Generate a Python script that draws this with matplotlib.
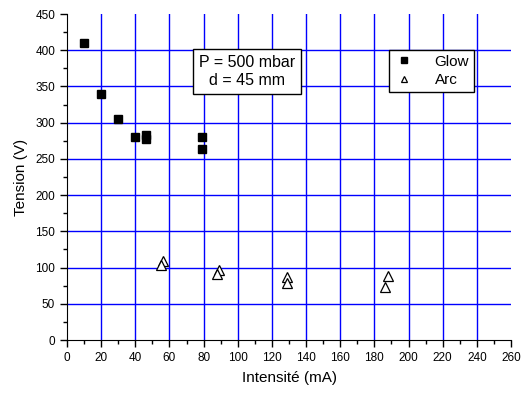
import matplotlib
matplotlib.use("Agg")
import matplotlib.pyplot as plt
import numpy as np

plt.rcParams['font.family'] = ['Liberation Sans', 'DejaVu Sans']

# Glow (carrés pleins)
glow_i = [10, 20, 30, 40, 46, 46, 79, 79]
glow_v = [410, 340, 305, 280, 283, 278, 280, 264]

# Arc (triangles vides)
arc_i = [56, 55, 89, 88, 129, 129, 188, 186]
arc_v = [109, 104, 96, 91, 87, 79, 88, 73]

xticks = np.arange(0, 261, 20)
yticks = np.arange(0, 451, 50)

fig = plt.figure(figsize=(5.22, 3.96), dpi=100)
ax = fig.add_axes([0.1284, 0.1414, 0.979 - 0.1284, 0.9646 - 0.1414])

# grille bleue (sans les bords)
for x in xticks[1:-1]:
    ax.axvline(x, color='#0000ff', lw=1.0, zorder=0)
for y in yticks[1:-1]:
    ax.axhline(y, color='#0000ff', lw=1.0, zorder=0)

ax.plot(glow_i, glow_v, 's', color='black', ms=6, label='Glow', zorder=3)
ax.plot(arc_i, arc_v, '^', mfc='white', mec='black', mew=0.9, ms=7,
        label='Arc', zorder=3)

ax.set_xlim(0, 260)
ax.set_ylim(0, 450)
ax.set_xticks(xticks)
ax.set_yticks(yticks)
ax.set_xticks(np.arange(10, 260, 20), minor=True)
ax.set_yticks(np.arange(25, 450, 50), minor=True)
ax.tick_params(which='major', direction='out', length=5, width=1, labelsize=8.5)
ax.tick_params(which='minor', direction='out', length=3, width=1)

ax.spines['top'].set_visible(False)
ax.spines['right'].set_visible(False)

ax.set_xlabel('Intensité (mA)', fontsize=11, labelpad=5)
ax.set_ylabel('Tension (V)', fontsize=11, labelpad=5)

ax.text(105.5, 371, 'P = 500 mbar\nd = 45 mm', ha='center', va='center',
        fontsize=11.5, linespacing=1.25, zorder=4,
        bbox=dict(boxstyle='square,pad=0.38', fc='white', ec='black', lw=1))

leg = ax.legend(loc='upper right', bbox_to_anchor=(0.933, 0.913), fontsize=11,
                frameon=True, fancybox=False, edgecolor='black', framealpha=1,
                handletextpad=1.3, borderpad=0.3, labelspacing=0.3,
                handlelength=1.4)
leg.get_frame().set_linewidth(1)
leg.set_zorder(5)
for h in leg.legend_handles:
    h.set_markersize(5)

fig.savefig('out.png', dpi=100)
